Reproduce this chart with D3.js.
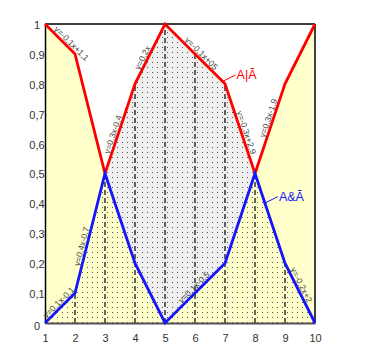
<!DOCTYPE html>
<html><head><meta charset="utf-8">
<script src="https://cdn.jsdelivr.net/npm/d3@7"></script>
<style>body{margin:0;background:#fff}svg{display:block}</style>
</head><body>
<svg id="c" width="370" height="361"></svg>
<script>
const xs = [1,2,3,4,5,6,7,8,9,10];
const orVals  = [1,0.9,0.5,0.8,1,0.9,0.8,0.5,0.8,1];   // A|Ā (red)
const andVals = [0,0.1,0.5,0.2,0,0.1,0.2,0.5,0.2,0];   // A&Ā (blue)
const xTickLabels = ["1","2","3","4","5","6","7","8","9","10"];
const yTicks = [0,0.1,0.2,0.3,0.4,0.5,0.6,0.7,0.8,0.9,1];
const yTickLabels = ["0","0,1","0,2","0,3","0,4","0,5","0,6","0,7","0,8","0,9","1"];
const grayFrom = 3, grayTo = 8;
const lineLabels = [
  {series:"or",  from:1, to:2,  text:"y=-0,1x+1,1", t:0.77},
  {series:"or",  from:3, to:4,  text:"y=0,3x-0,4",  t:0.42},
  {series:"or",  from:4, to:5,  text:"y=0,2x",      t:0.40},
  {series:"or",  from:5, to:7,  text:"y=-0,1x+05",  t:0.55},
  {series:"or",  from:7, to:8,  text:"y=-0,3x+2,9", t:0.56},
  {series:"or",  from:8, to:9,  text:"y=0,3x-1,9",  t:0.60},
  {series:"and", from:1, to:2,  text:"y=0,1x-0,1",  t:0.57},
  {series:"and", from:2, to:3,  text:"y=0,4x-0,7",  t:0.38},
  {series:"and", from:5, to:7,  text:"y=0,1x-0,5",  t:0.54},
  {series:"and", from:9, to:10, text:"y=-0,2x+2",   t:0.40}
];
const legendItems = [
  {series:"or",  text:"A|Ā", at:6.92},
  {series:"and", text:"A&Ā", at:8.33}
];

const svg = d3.select("#c");
const x = d3.scaleLinear().domain([1,10]).range([45,315]);
const y = d3.scaleLinear().domain([0,1]).range([323,24]);
const colors = {or:"#ff0000", and:"#1414ff"};
const vals = {or:orVals, and:andVals};
const pts = s => xs.map((v,i)=>({x:v, y:vals[s][i]}));
const valAt = (s, xv) => { const i = xs.indexOf(xv); return vals[s][i]; };
const interp = (s, xv) => {
  const i = Math.min(xs.length-2, Math.max(0, Math.floor(xv - xs[0])));
  const f = (xv - xs[i])/(xs[i+1]-xs[i]);
  return vals[s][i] + f*(vals[s][i+1]-vals[s][i]);
};

// pattern
const defs = svg.append("defs");
const pat = defs.append("pattern").attr("id","dots").attr("patternUnits","userSpaceOnUse")
  .attr("width",5).attr("height",5);
pat.append("rect").attr("x",2).attr("y",2).attr("width",1).attr("height",1).attr("fill","#555");

const data = xs.map((v,i)=>({x:v, a:andVals[i], o:orVals[i]}));
const grayData = data.filter(d=>d.x>=grayFrom && d.x<=grayTo);

// yellow under red
svg.append("path").datum(data)
  .attr("d", d3.area().x(d=>x(d.x)).y0(y(0)).y1(d=>y(d.o)))
  .attr("fill","#ffffcc");
// gray between blue and red
svg.append("path").datum(grayData)
  .attr("d", d3.area().x(d=>x(d.x)).y0(d=>y(d.a)).y1(d=>y(d.o)))
  .attr("fill","#efefef");
// dotted regions
svg.append("path").datum(data)
  .attr("d", d3.area().x(d=>x(d.x)).y0(y(0)).y1(d=>y(d.a)))
  .attr("fill","url(#dots)");
svg.append("path").datum(grayData)
  .attr("d", d3.area().x(d=>x(d.x)).y0(d=>y(d.a)).y1(d=>y(d.o)))
  .attr("fill","url(#dots)");

// dashed verticals
svg.append("g").selectAll("line").data(data.filter(d=>d.x>xs[0] && d.x<xs[xs.length-1]))
  .join("line")
  .attr("x1",d=>x(d.x)).attr("x2",d=>x(d.x))
  .attr("y1",y(0)).attr("y2",d=>y(d.x>=grayFrom && d.x<=grayTo ? d.o : d.a))
  .attr("stroke","#000").attr("stroke-width",1.2).attr("stroke-dasharray","5,3");

// frame
svg.append("line").attr("x1",x(1)).attr("x2",x(10)).attr("y1",y(1)).attr("y2",y(1)).attr("stroke","#000").attr("stroke-width",1.5);
svg.append("line").attr("x1",x(10)).attr("x2",x(10)).attr("y1",y(1)).attr("y2",y(0)).attr("stroke","#000").attr("stroke-width",1.5);

// axes
const yAxis = d3.axisLeft(y).tickValues(yTicks).tickSize(0).tickPadding(0)
  .tickFormat((d,i)=>yTickLabels[i]);
const gy = svg.append("g").attr("transform",`translate(${x(1)},0)`).call(yAxis);
gy.select(".domain").attr("stroke","#000").attr("stroke-width",1.5);
gy.selectAll("text").attr("x",-8).attr("text-anchor","middle")
  .attr("dy", (d)=> d===0 ? "0.62em" : "0.4em")
  .style("font-family","Liberation Sans, Arial, sans-serif").style("font-size","11px").attr("fill","#333");

const xAxis = d3.axisBottom(x).tickValues(xs).tickSize(0).tickPadding(0)
  .tickFormat((d,i)=>xTickLabels[i]);
const gx = svg.append("g").attr("transform",`translate(0,${y(0)})`).call(xAxis);
gx.select(".domain").attr("stroke","#5a4f55").attr("stroke-width",2);
gx.selectAll("text").attr("y",11).attr("dy","0.71em")
  .style("font-family","Liberation Sans, Arial, sans-serif").style("font-size","11px").attr("fill","#333");

// lines
const line = d3.line().x(d=>x(d.x)).y(d=>y(d.y));
["or","and"].forEach(s=>{
  svg.append("path").datum(pts(s)).attr("d",line)
    .attr("fill","none").attr("stroke",colors[s]).attr("stroke-width",2.8)
    .attr("stroke-linejoin","miter");
});

// line equation labels
svg.append("g").selectAll("text").data(lineLabels).join("text")
  .attr("transform", d=>{
    const x0=x(d.from), y0=y(valAt(d.series,d.from));
    const x1=x(d.to),   y1=y(valAt(d.series,d.to));
    const a = Math.atan2(y1-y0, x1-x0)*180/Math.PI;
    const px = x0 + d.t*(x1-x0), py = y0 + d.t*(y1-y0);
    return `translate(${px},${py}) rotate(${a})`;
  })
  .attr("y",-2).attr("text-anchor","middle")
  .style("font-family","Liberation Sans, Arial, sans-serif").style("font-size","8.5px")
  .attr("fill","#444").text(d=>d.text);

// series labels with leaders
legendItems.forEach(it=>{
  const ax = x(it.at), ay = y(interp(it.series, it.at));
  const ex = ax + 13, ey = ay - 6.5;
  svg.append("line").attr("x1",ax).attr("y1",ay).attr("x2",ex).attr("y2",ey)
    .attr("stroke",colors[it.series]).attr("stroke-width",1);
  svg.append("text").attr("x",ex+1).attr("y",ey+4)
    .style("font-family","Liberation Sans, Arial, sans-serif").style("font-size","12.5px")
    .attr("fill",colors[it.series]).text(it.text);
});
</script>
</body></html>
